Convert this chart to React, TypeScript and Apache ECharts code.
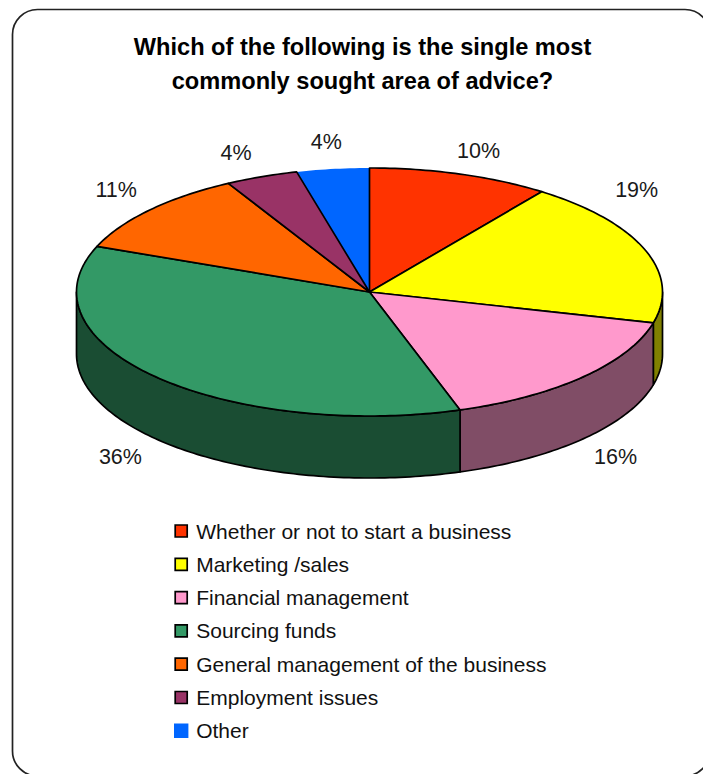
import React, { useEffect, useRef } from "react";
import * as echarts from "echarts";

const categories = [
  "Whether or not to start a business",
  "Marketing /sales",
  "Financial management",
  "Sourcing funds",
  "General management of the business",
  "Employment issues",
  "Other",
];
const shares = [10, 19, 16, 36, 11, 4, 4];
const topColors = ["#FF3300", "#FFFF00", "#FF99CC", "#339966", "#FF6600", "#993366", "#0066FF"];
const wallColors = ["#801A00", "#808000", "#804D66", "#1A4D33", "#803300", "#4D1A33", "#003380"];
const titleLines = ["Which of the following is the single most", "commonly sought area of advice?"];

// Pie geometry: an ellipse seen at an angle, with a wall hanging below the rim.
const CX = 369.5;
const CY = 292;
const RX = 293;
const RY = 124;
const DEPTH = 62;
const STEP = Math.PI / 180;

// Nudges of each percentage label away from the middle of its rim arc.
const labelNudge: [number, number][] = [
  [18.5, -23],
  [-8.5, -60],
  [32.5, 80],
  [-35.5, 80],
  [-33.5, -20],
  [-25.5, -24],
  [-6.5, -27],
];

const total = shares.reduce((a, b) => a + b, 0);

function rim(angle: number, drop = 0): [number, number] {
  return [CX + RX * Math.sin(angle), CY - RY * Math.cos(angle) + drop];
}

function arc(from: number, to: number, drop = 0): [number, number][] {
  const pts: [number, number][] = [];
  const n = Math.max(2, Math.ceil((to - from) / STEP));
  for (let i = 0; i <= n; i++) pts.push(rim(from + ((to - from) * i) / n, drop));
  return pts;
}

function sliceRenderer(index: number) {
  const before = shares.slice(0, index).reduce((a, b) => a + b, 0);
  return (_params: any, api: any) => {
    const value = api.value(0);
    const start = (before / total) * Math.PI * 2;
    const end = ((before + value) / total) * Math.PI * 2;
    const outlined = index !== shares.length - 1;
    const stroke = outlined ? "#000" : "none";
    const children: any[] = [];

    // The wall only shows on the front half of the ellipse.
    const wallStart = Math.max(start, Math.PI / 2);
    const wallEnd = Math.min(end, (Math.PI * 3) / 2);
    if (wallEnd > wallStart) {
      children.push({
        type: "polygon",
        shape: { points: [...arc(wallStart, wallEnd), ...arc(wallStart, wallEnd, DEPTH).reverse()] },
        style: { fill: wallColors[index], stroke, lineWidth: 1.7, lineJoin: "round" },
      });
    }
    children.push({
      type: "polygon",
      shape: { points: [[CX, CY], ...arc(start, end)] },
      style: { fill: topColors[index], stroke, lineWidth: 1.7, lineJoin: "round" },
    });

    const [mx, my] = rim((start + end) / 2);
    children.push({
      type: "text",
      x: mx + labelNudge[index][0],
      y: my + labelNudge[index][1],
      style: {
        text: `${value}%`,
        fill: "#1a1a1a",
        font: "21.5px 'Liberation Sans', Arial, sans-serif",
        textAlign: "center",
        textVerticalAlign: "middle",
      },
    });
    return { type: "group", children };
  };
}

export default function App() {
  const ref = useRef<HTMLDivElement>(null);

  useEffect(() => {
    document.body.style.margin = "0";
    const chart = echarts.init(ref.current!, undefined, { renderer: "svg" });
    chart.setOption({
      animation: false,
      backgroundColor: "#fff",
      graphic: [
        {
          type: "rect",
          z: -1,
          shape: { x: 12.5, y: 9.5, width: 697.5, height: 766.5, r: 25 },
          style: { fill: "#fff", stroke: "#222", lineWidth: 1.7 },
        },
      ],
      title: {
        text: titleLines.join("\n"),
        left: 357.5,
        top: 25,
        textAlign: "center",
        textStyle: {
          fontFamily: "'Liberation Sans', Arial, sans-serif",
          fontSize: 23.6,
          fontWeight: "bold",
          color: "#000",
          lineHeight: 34,
        },
      },
      legend: {
        orient: "vertical",
        left: 174,
        top: 519,
        padding: 0,
        icon: "rect",
        itemWidth: 12,
        itemHeight: 12,
        itemGap: 9.3,
        selectedMode: false,
        textStyle: {
          fontFamily: "'Liberation Sans', Arial, sans-serif",
          fontSize: 21,
          color: "#111",
          padding: [0, 0, 0, 4],
          lineHeight: 24,
        },
        data: categories.map((name, i) => ({
          name,
          itemStyle:
            i === categories.length - 1
              ? { color: topColors[i], borderColor: topColors[i], borderWidth: 2.4 }
              : { color: topColors[i], borderColor: "#000", borderWidth: 1.7 },
        })),
      },
      series: categories.map((name, i) => ({
        type: "custom",
        name,
        coordinateSystem: "none",
        silent: true,
        // The last slice has no outline, so it sits under its neighbours' edges.
        z: i === categories.length - 1 ? 1 : 2,
        itemStyle: { color: topColors[i] },
        renderItem: sliceRenderer(i),
        data: [[shares[i]]],
      })),
    });
    return () => chart.dispose();
  }, []);

  return <div ref={ref} style={{ position: "absolute", left: 0, top: 0, width: 703, height: 774 }} />;
}
